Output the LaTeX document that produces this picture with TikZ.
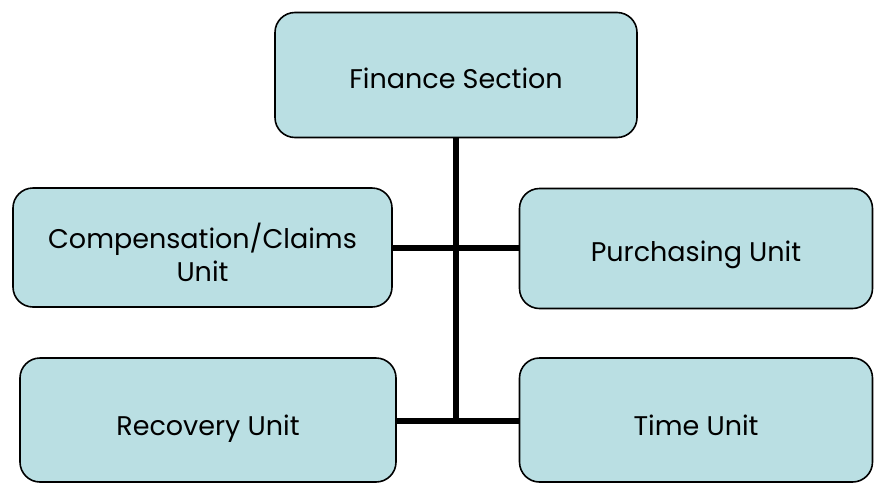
\documentclass[tikz,border=0pt]{standalone}
\usepackage{fontspec}
\setmainfont{Poppins}
\definecolor{boxfill}{RGB}{186,223,227}
\begin{document}
\begin{tikzpicture}[x=1pt,y=-1pt,
  unitbox/.style={draw=black, line width=1.6pt, fill=boxfill, rounded corners=20pt, inner sep=0pt, align=center, font=\fontsize{27}{33}\selectfont},
  conn/.style={line width=5.5pt}]
\useasboundingbox (0,0) rectangle (874,485);
\node[unitbox, minimum width=362pt, minimum height=125pt, text height=30pt, text depth=4pt] (fin) at (456,75) {Finance Section};
\node[unitbox, minimum width=379pt, minimum height=119pt, text height=69pt, text depth=2pt] (comp) at (202.5,247.5) {Compensation/Claims\\Unit};
\node[unitbox, minimum width=353pt, minimum height=120pt, text height=30pt, text depth=5pt] (purch) at (696,248.5) {Purchasing Unit};
\node[unitbox, minimum width=376pt, minimum height=124pt, text height=33pt, text depth=3pt] (rec) at (208,420) {Recovery Unit};
\node[unitbox, minimum width=353pt, minimum height=124pt, text height=33pt, text depth=3pt] (time) at (696,420) {Time Unit};
\coordinate (j1) at (456,248);
\coordinate (j2) at (456,421);
\draw[conn] (fin.south -| j1) -- (j2);
\draw[conn] (comp.east |- j1) -- (purch.west |- j1);
\draw[conn] (rec.east |- j2) -- (time.west |- j2);
\end{tikzpicture}
\end{document}
